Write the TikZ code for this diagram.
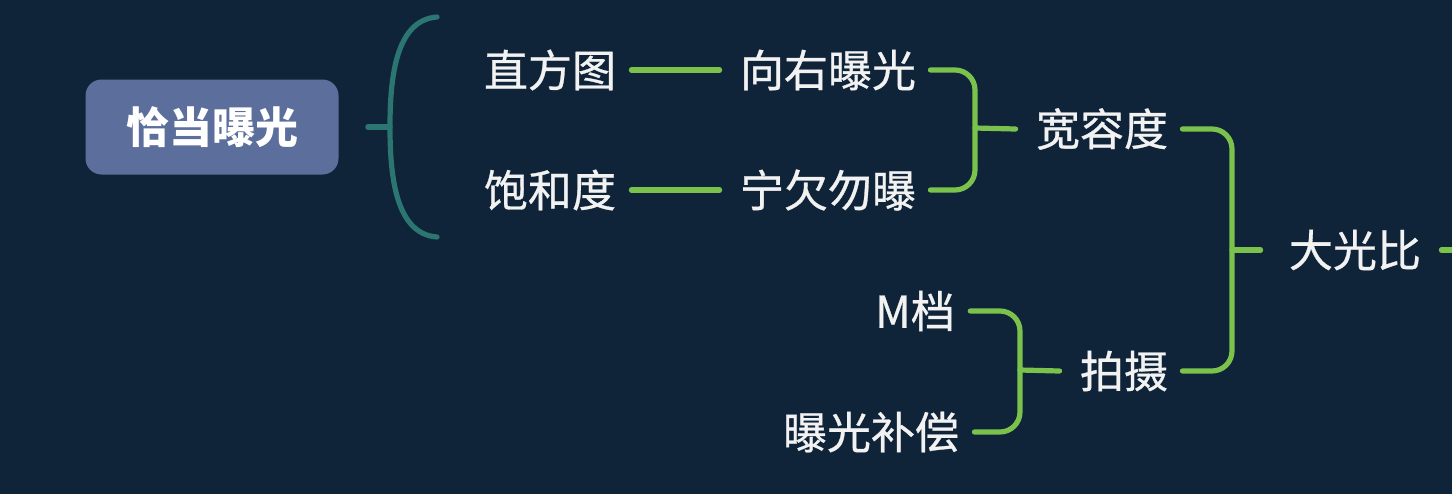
\documentclass[tikz,border=0pt]{standalone}
\usepackage{fontspec}
\newfontfamily\cjk[FakeBold=0.7]{Noto Sans CJK SC}
\newfontfamily\cjkb{Noto Sans CJK SC}
\definecolor{bgc}{HTML}{0F2438}
\definecolor{lgreen}{HTML}{7BC24C}
\definecolor{tealc}{HTML}{2B7573}
\definecolor{rootc}{HTML}{5B6E9C}
\definecolor{txtc}{HTML}{F2F2F2}
\begin{document}
\begin{tikzpicture}[x=0.5pt,y=-0.5pt,
  txt/.style={text=txtc, font=\cjk\fontsize{22}{22}\selectfont, inner sep=0pt},
  rootbox/.style={fill=rootc, rounded corners=8pt, minimum width=126.5pt, minimum height=47.5pt, text=white, font=\cjkb\bfseries\fontsize{21.5}{21.5}\selectfont, inner sep=0pt},
  gline/.style={draw=lgreen, line width=2.6pt, line cap=round, rounded corners=10pt},
  tline/.style={draw=tealc, line width=2.6pt, line cap=round}]
\fill[bgc] (0,0) rectangle (1452,494);
\useasboundingbox (0,0) rectangle (1452,494);
% nodes
\node[rootbox] (root) at (212,127) {恰当曝光};
\node[txt] (zf) at (550,70) {直方图};
\node[txt] (bh) at (550,190) {饱和度};
\node[txt] (xy) at (828,70) {向右曝光};
\node[txt] (nq) at (828,190) {宁欠勿曝};
\node[txt] (kr) at (1102,129) {宽容度};
\node[txt] (dg) at (1355,250) {大光比};
\node[txt] (mw) at (915,311) {M档};
\node[txt] (bc) at (871,432) {曝光补偿};
\node[txt] (ps) at (1124,371) {拍摄};
% junction coordinates
\coordinate (bkmid) at (390,127);
\coordinate (bktop) at (437,17);
\coordinate (bkbot) at (437,237);
\coordinate (j1) at (975,128);
\coordinate (j2) at (1232,250);
\coordinate (j3) at (1020,370);
\coordinate (edge) at (1456,250);
% teal connectors
\draw[tline] ([xshift=14.5pt]root.east) -- (bkmid);
\draw[tline] (bktop) .. controls (395,20) and (390,80) .. (bkmid) .. controls (390,174) and (395,234) .. (bkbot);
% green connectors
\draw[gline] ([xshift=7.5pt]zf.east) -- ([xshift=-10pt]xy.west);
\draw[gline] ([xshift=7.5pt]bh.east) -- ([xshift=-10pt]nq.west);
\draw[gline] ([xshift=7pt]xy.east) -| (j1) |- ([xshift=7pt]nq.east);
\draw[gline] (j1) -- ([xshift=-10pt]kr.west);
\draw[gline] ([xshift=7pt]kr.east) -| (j2) |- ([xshift=7pt]ps.east);
\draw[gline] (j2) -- ([xshift=-14pt]dg.west);
\draw[gline] ([xshift=7.5pt]mw.east) -| (j3) |- ([xshift=7.5pt]bc.east);
\draw[gline] (j3) -- ([xshift=-10pt]ps.west);
\draw[gline] ([xshift=10pt]dg.east) -- (edge);
\end{tikzpicture}
\end{document}
